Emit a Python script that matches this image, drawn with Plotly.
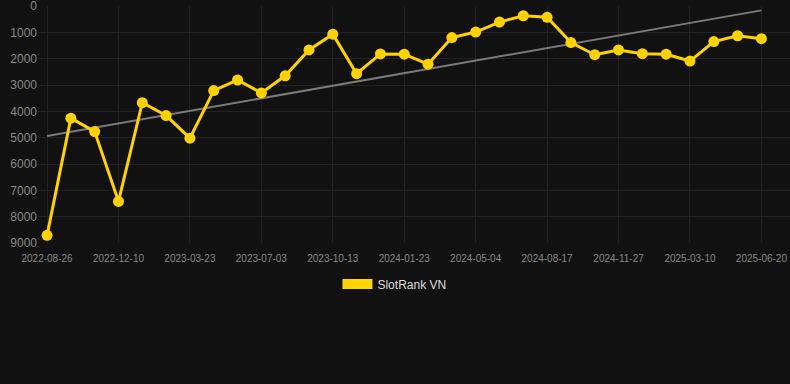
import numpy as np
import plotly.graph_objects as go

dates = [
    "2022-08-26", "2022-09-30", "2022-11-04", "2022-12-10", "2023-01-13", "2023-02-16",
    "2023-03-23", "2023-04-26", "2023-05-30", "2023-07-03", "2023-08-06", "2023-09-09",
    "2023-10-13", "2023-11-16", "2023-12-20", "2024-01-23", "2024-02-26", "2024-03-31",
    "2024-05-04", "2024-06-08", "2024-07-13", "2024-08-17", "2024-09-20", "2024-10-24",
    "2024-11-27", "2024-12-31", "2025-02-04", "2025-03-10", "2025-04-13", "2025-05-17",
    "2025-06-20",
]
ranks = [
    8710, 4260, 4770, 7420, 3670, 4160, 5020, 3210, 2810, 3300, 2650, 1670,
    1070, 2570, 1820, 1830, 2210, 1200, 990, 610, 370, 430, 1390, 1850,
    1670, 1810, 1830, 2090, 1350, 1130, 1240,
]
tick_labels = dates[::3]
y_ticks = [0, 1000, 2000, 3000, 4000, 5000, 6000, 7000, 8000, 9000]
series_name = "SlotRank VN"

idx = np.arange(len(ranks))
slope, intercept = np.polyfit(idx, ranks, 1)
trend = slope * idx + intercept

GOLD = "#FFD200"
BG = "#111111"

fig = go.Figure()
fig.add_trace(go.Scatter(
    x=dates, y=trend, mode="lines",
    line=dict(color="#7a7a7a", width=2),
    showlegend=False, hoverinfo="skip",
))
fig.add_trace(go.Scatter(
    x=dates, y=ranks, mode="lines+markers",
    line=dict(color=GOLD, width=3),
    marker=dict(color=GOLD, size=11),
    name=series_name, showlegend=False,
))
# legend entry
fig.add_trace(go.Scatter(
    x=[None], y=[None], mode="lines",
    line=dict(color=GOLD, width=10),
    name=series_name, showlegend=True,
))

fig.update_layout(
    width=790, height=384,
    paper_bgcolor=BG, plot_bgcolor=BG,
    margin=dict(l=38, r=0, t=6, b=141),
    font=dict(family="Liberation Sans, Arial, sans-serif", color="#888888"),
    showlegend=True,
    legend=dict(
        orientation="h", x=0.474, xanchor="center", y=-0.173, yanchor="middle",
        font=dict(size=12, color="#dddddd"), bgcolor="rgba(0,0,0,0)",
    ),
    xaxis=dict(
        type="category", categoryorder="array", categoryarray=dates,
        range=[-0.38, 31.2],
        tickmode="array", tickvals=tick_labels, ticktext=tick_labels,
        showgrid=True, gridcolor="#222222", gridwidth=1,
        zeroline=False, showline=False, ticks="",
        ticklabelstandoff=8, ticklabeloverflow="allow",
        tickfont=dict(size=10, color="#888888"),
    ),
    yaxis=dict(
        range=[9000, 0],
        tickmode="array", tickvals=y_ticks,
        showgrid=True, gridcolor="#222222", gridwidth=1,
        zeroline=False, showline=False, ticks="",
        ticklabeloverflow="allow",
        tickfont=dict(size=12, color="#888888"),
    ),
)

fig.write_html(
    "out.html",
    config={"displayModeBar": False},
    post_script="document.body.style.margin='0';document.body.style.background='#111111';",
)
